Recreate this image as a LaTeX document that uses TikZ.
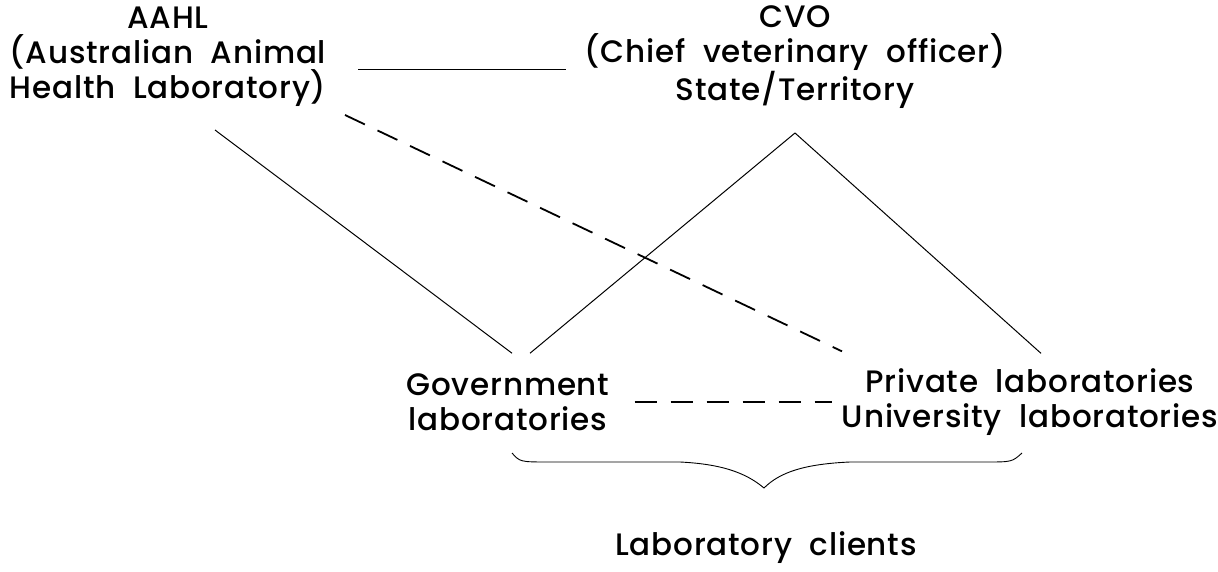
\documentclass[tikz,border=0pt]{standalone}
\usepackage{fontspec}
\setmainfont{Poppins}[BoldFont={* Medium}, LetterSpace=2.5]
\usetikzlibrary{positioning}

\tikzset{
  lbl/.style={align=center, inner sep=0pt, font=\fontsize{31}{35}\selectfont\bfseries},
  link/.style={draw=black, line width=1pt},
  dlink/.style={link, line width=1.8pt, dash pattern=on 22pt off 14pt},
}

\begin{document}
\begin{tikzpicture}[x=1pt, y=-1pt]
\useasboundingbox (0,0) rectangle (1218,572); % page

\node[lbl] (aahl) at (168,57) {AAHL\\(Australian\ \ Animal\\Health\ \ Laboratory)};
\node[lbl] (cvo) at (795,57) {CVO\\(Chief\ \ veterinary\ \ officer)\\State/Territory};
\node[lbl] (gov) at (508,402) {Government\\laboratories};
\node[lbl] (priv) at (1030,402) {Private\ \ laboratories\\University\ \ laboratories};
\node[lbl] (clients) at (766,548) {Laboratory\ \ clients};

\coordinate (apex) at (795,133); % CVO fork point
\coordinate (aahl-s) at (215,130);
\coordinate (aahl-d) at (345,115);

\draw[link] (aahl.east) ++(32,13) -- ([xshift=-18pt, yshift=-13pt]cvo.west); % AAHL -- CVO
\draw[link] (aahl-s) -- ([xshift=4pt, yshift=20pt]gov.north); % AAHL -- government
\draw[dlink] (aahl-d) -- ([xshift=-188pt, yshift=17pt]priv.north); % AAHL -- private
\draw[link] (apex) -- ([xshift=22pt, yshift=20pt]gov.north); % CVO -- government
\draw[link] (apex) -- ([xshift=11pt, yshift=15pt]priv.north); % CVO -- private
\draw[dlink] (gov.east) ++(25,0) -- ([xshift=-10pt]priv.west); % government -- private

% clients brace
\coordinate (br-l) at (512,453);
\coordinate (br-r) at (1022,453);
\coordinate (br-tip) at (764,488);
\draw[line width=0.9pt] (br-l) .. controls (520,462) .. (550,462) -- (680,462)
  .. controls (720,464) and (745,472) .. (br-tip)
  .. controls (780,472) and (805,464) .. (850,462) -- (985,462)
  .. controls (1012,462) .. (br-r);
\end{tikzpicture}
\end{document}
